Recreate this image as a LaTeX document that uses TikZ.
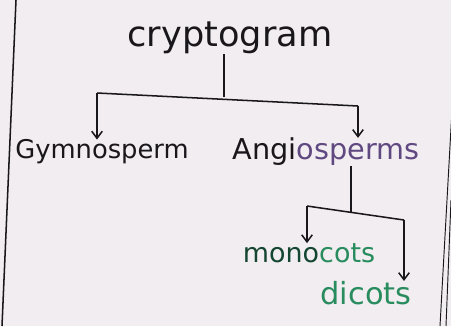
\documentclass[tikz,border=0pt]{standalone}
\usepackage{fontspec}
\setmainfont{DejaVu Sans}
\usepackage{xcolor}
\usetikzlibrary{arrows.meta}
\definecolor{paper}{RGB}{241,237,240}
\definecolor{ink}{RGB}{25,22,28}
\definecolor{purpleink}{RGB}{96,72,128}
\definecolor{greenink}{RGB}{40,140,95}
\definecolor{darkgreenink}{RGB}{20,70,50}

\begin{document}
\begin{tikzpicture}[>={Straight Barb[length=6pt,width=9pt]}, x=0.03cm, y=-0.03cm]

                \tikzset{% This is the style settings for the words
                    word/.style={inner sep=0pt,text=ink,font=\fontsize{#1}{#1}\selectfont},
                    ink line/.style={draw=ink,line width=1.3pt}}

                    \fill [paper] (0,0) rectangle (451,326);
                    \useasboundingbox (0,0) rectangle (451,326);

                    % page edges
                    \draw [ink line] (16,0) -- (2,326);
                    \draw [draw=ink,line width=0.8pt] (452,110) -- (440,326);
                    \draw [draw=ink,line width=0.8pt] (451,200) -- (446,326);

                    \node [word=30](crypto) at (230,38) {cryptogram};
                    \node [word=22](gymno) at (102,152) {Gymnosperm};
                    \node [word=24.5](angio) at (326,152) {Angi\textcolor{purpleink}{osperms}};
                    \node [word=23](mono) at (309,253) {\textcolor{darkgreenink}{mono}\textcolor{greenink}{cots}};
                    \node [word=26,text=greenink](dicot) at (366,293) {dicots};

                    \coordinate (j1) at (224,97);
                    \coordinate (b1l) at (97,93);
                    \coordinate (b1r) at (358,106);
                    \coordinate (j2) at (351,212);
                    \coordinate (b2l) at (307,206);
                    \coordinate (b2r) at (404,220);

                    \draw [ink line] (crypto.south -| j1) -- (j1);
                    \draw [ink line] (b1l) -- (b1r);
                    \draw [ink line,->] (b1l) -- (b1l |- gymno.north);
                    \draw [ink line,->] (b1r) -- (b1r |- angio.north);

                    \draw [ink line] (angio.south -| j2) -- (j2);
                    \draw [ink line] (b2l) -- (b2r);
                    \draw [ink line,->] (b2l) -- (b2l |- mono.north);
                    \draw [ink line,->] (b2r) -- (b2r |- dicot.north);

            \end{tikzpicture}
\end{document}
